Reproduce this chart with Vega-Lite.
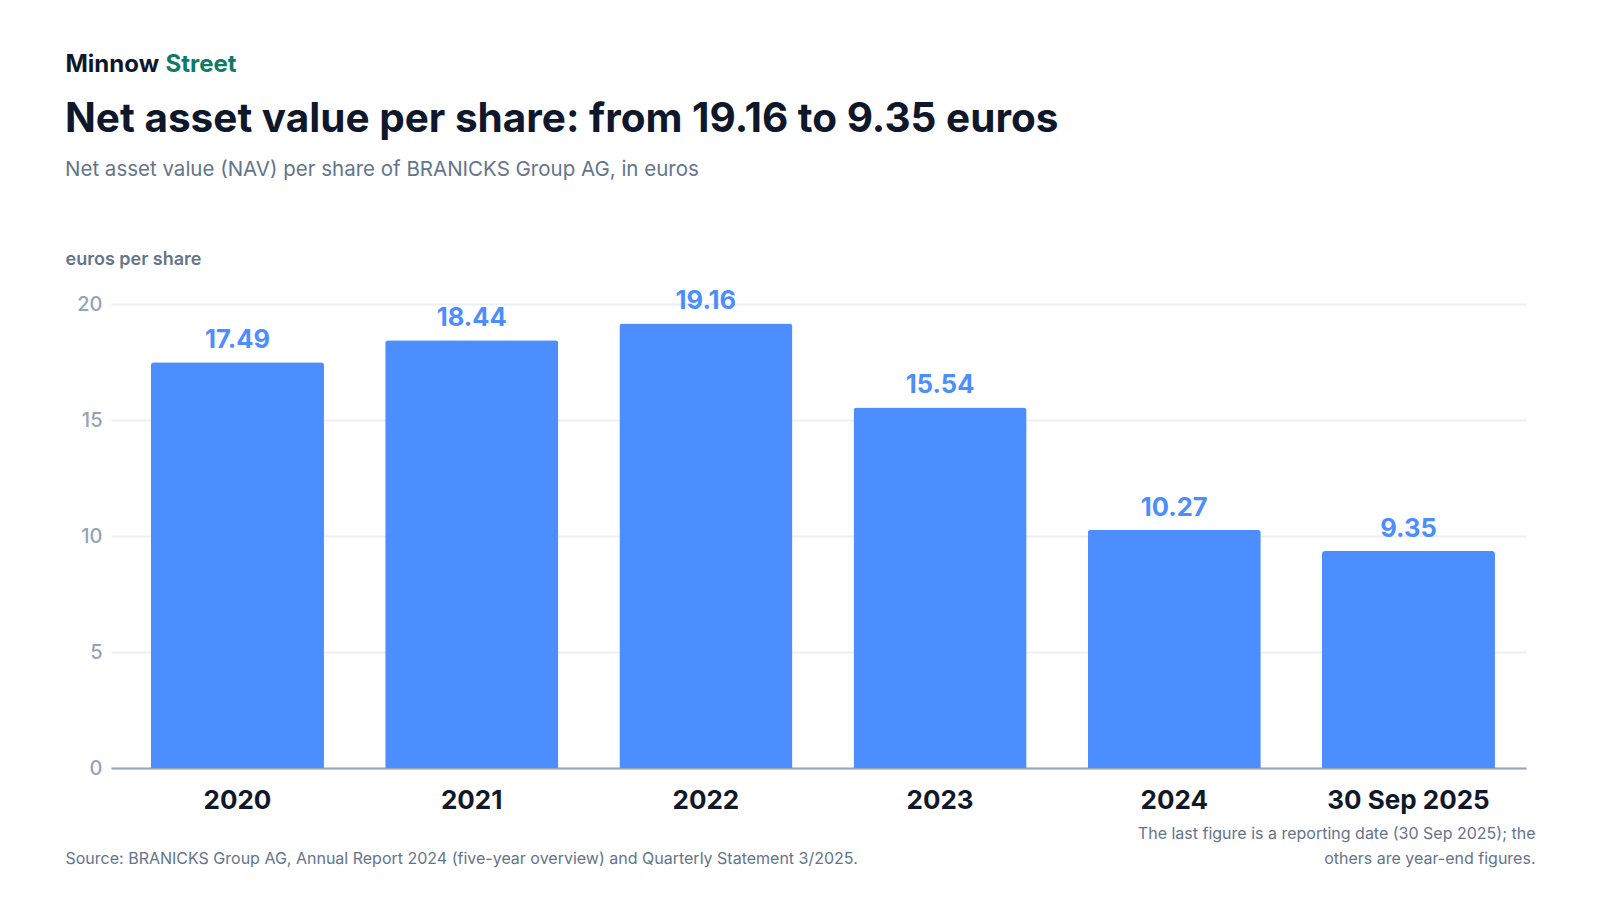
{
  "$schema": "https://vega.github.io/schema/vega-lite/v6.json",
  "autosize": {"type": "none"},
  "width": 1415,
  "height": 464,
  "padding": {"left": 111, "top": 304, "right": 74, "bottom": 132},
  "background": "#ffffff",
  "config": {
    "font": "Inter",
    "view": {"stroke": null}
  },
  "title": {
    "text": "Net asset value per share: from 19.16 to 9.35 euros",
    "subtitle": "Net asset value (NAV) per share of BRANICKS Group AG, in euros",
    "anchor": "start",
    "frame": "group",
    "orient": "top",
    "dx": -46,
    "offset": -128,
    "font": "Inter",
    "fontSize": 40.5,
    "fontWeight": 700,
    "color": "#0f172a",
    "subtitleFont": "Inter",
    "subtitleFontSize": 20.5,
    "subtitleFontWeight": 400,
    "subtitleColor": "#64748b",
    "subtitlePadding": 19
  },
  "data": {
    "values": [
      {"period": "2020", "nav": 17.49},
      {"period": "2021", "nav": 18.44},
      {"period": "2022", "nav": 19.16},
      {"period": "2023", "nav": 15.54},
      {"period": "2024", "nav": 10.27},
      {"period": "30 Sep 2025", "nav": 9.35}
    ]
  },
  "resolve": {"axis": {"x": "independent", "y": "independent"}},
  "layer": [
    {
      "mark": {"type": "bar", "color": "#4c8dff", "cornerRadiusTopLeft": 3, "cornerRadiusTopRight": 3},
      "encoding": {
        "x": {
          "field": "period",
          "type": "nominal",
          "sort": null,
          "scale": {"paddingInner": 0.2613, "paddingOuter": 0.1516, "align": 0.563},
          "axis": {
            "orient": "bottom",
            "title": "Source: BRANICKS Group AG, Annual Report 2024 (five-year overview) and Quarterly Statement 3/2025.",
            "titleX": -46,
            "titleY": 95,
            "titleAlign": "left",
            "titleAnchor": "start",
            "titleBaseline": "alphabetic",
            "titleFont": "Inter",
            "titleFontSize": 16,
            "titleFontWeight": 400,
            "titleColor": "#64748b",
            "labelAngle": 0,
            "labelFont": "Inter",
            "labelFontSize": 26,
            "labelFontWeight": 700,
            "labelColor": "#111827",
            "labelPadding": 19,
            "ticks": false,
            "domain": true,
            "domainColor": "#94a3b8",
            "domainWidth": 2,
            "grid": false
          }
        },
        "y": {
          "field": "nav",
          "type": "quantitative",
          "scale": {"domain": [0, 20], "nice": false},
          "axis": {
            "orient": "left",
            "values": [0, 5, 10, 15, 20],
            "title": "euros per share",
            "titleAngle": 0,
            "titleX": -46,
            "titleY": -40,
            "titleAlign": "left",
            "titleBaseline": "alphabetic",
            "titleFont": "Inter",
            "titleFontSize": 18,
            "titleFontWeight": 600,
            "titleColor": "#64748b",
            "labelFont": "Inter",
            "labelFontSize": 20,
            "labelFontWeight": 500,
            "labelColor": "#94a3b8",
            "labelPadding": 9,
            "ticks": false,
            "domain": false,
            "grid": true,
            "gridColor": "#eceff3",
            "gridWidth": 2
          }
        }
      }
    },
    {
      "mark": {"type": "text", "baseline": "alphabetic", "dy": -14, "font": "Inter", "fontSize": 25.5, "fontWeight": 700, "color": "#4c8dff"},
      "encoding": {
        "x": {
          "field": "period",
          "type": "nominal",
          "sort": null,
          "axis": {
            "orient": "top",
            "title": "Minnow",
            "titleX": -46,
            "titleY": -233,
            "titleAlign": "left",
            "titleAnchor": "start",
            "titleBaseline": "alphabetic",
            "titleFont": "Inter",
            "titleFontSize": 24,
            "titleFontWeight": 700,
            "titleColor": "#0f172a",
            "labels": false,
            "ticks": false,
            "domain": false,
            "grid": false
          }
        },
        "y": {
          "field": "nav",
          "type": "quantitative",
          "axis": {
            "orient": "right",
            "title": ["The last figure is a reporting date (30 Sep 2025); the", "others are year-end figures."],
            "titleAngle": 0,
            "titleX": 9,
            "titleY": 534,
            "titleAlign": "right",
            "titleBaseline": "alphabetic",
            "titleLineHeight": 25,
            "titleFont": "Inter",
            "titleFontSize": 16,
            "titleFontWeight": 400,
            "titleColor": "#64748b",
            "labels": false,
            "ticks": false,
            "domain": false,
            "grid": false
          }
        },
        "text": {"field": "nav", "type": "quantitative", "format": ".2f"}
      }
    },
    {
      "mark": {"type": "rule", "opacity": 0},
      "encoding": {
        "y": {
          "datum": 0,
          "type": "quantitative",
          "axis": {
            "orient": "left",
            "title": "Street",
            "titleAngle": 0,
            "titleX": 54,
            "titleY": -233,
            "titleAlign": "left",
            "titleBaseline": "alphabetic",
            "titleFont": "Inter",
            "titleFontSize": 24,
            "titleFontWeight": 700,
            "titleColor": "#0f7a66",
            "labels": false,
            "ticks": false,
            "domain": false,
            "grid": false
          }
        }
      }
    }
  ]
}
